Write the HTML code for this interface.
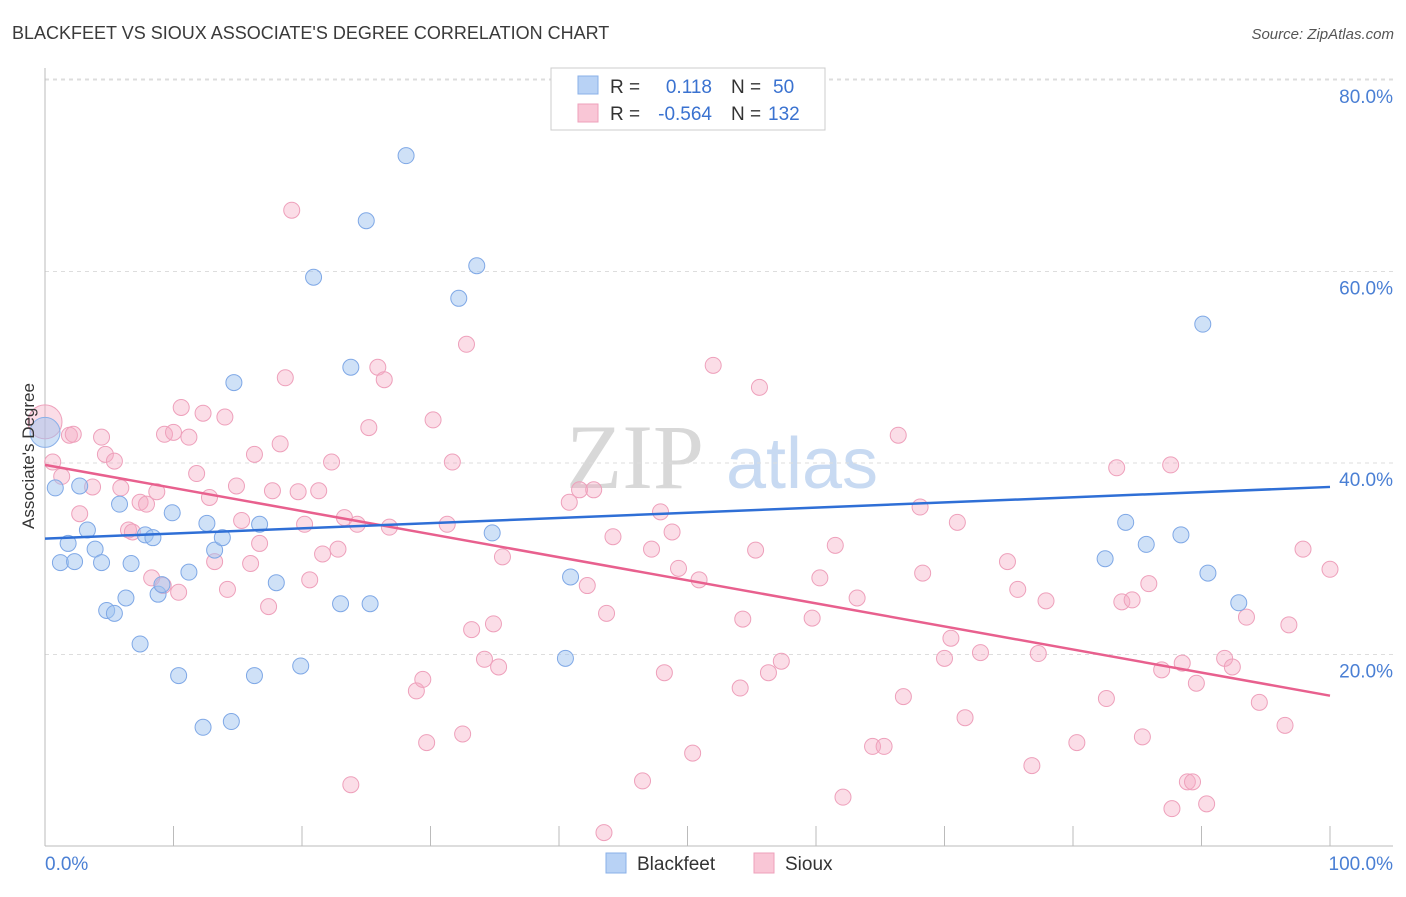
<!DOCTYPE html>
<html><head><meta charset="utf-8"><style>
body{margin:0;background:#fff;width:1406px;height:892px;overflow:hidden;font-family:"Liberation Sans",sans-serif}
</style></head><body>
<svg id="chart" width="1406" height="892" xmlns="http://www.w3.org/2000/svg" font-family="Liberation Sans, sans-serif">
<text x="12" y="39" font-size="18" fill="#3a3a3a">BLACKFEET VS SIOUX ASSOCIATE'S DEGREE CORRELATION CHART</text>
<text x="1394" y="39" font-size="15" fill="#555" font-style="italic" text-anchor="end">Source: ZipAtlas.com</text>
<g>
<text x="635" y="488" font-size="92" fill="#d8d8d8" font-family="Liberation Serif, serif" text-anchor="middle">ZIP</text>
<text x="802" y="488" font-size="72" fill="#c8daf2" text-anchor="middle">atlas</text>
</g>
<g id="grid"></g>
<g id="axes"></g>
<g id="pink"></g>
<g id="blue"></g>
<g id="trends"></g>
<text transform="translate(34,456) rotate(-90)" font-size="17" fill="#333" text-anchor="middle">Associate's Degree</text>
<g>
<rect x="551" y="68" width="274" height="62" fill="#fff" stroke="#ccc"/>
<rect x="578" y="76" width="20" height="18" fill="#b8d2f5" stroke="#8ab0e8"/>
<rect x="578" y="104" width="20" height="18" fill="#f9c6d6" stroke="#eea0bb"/>
<text x="610" y="93" font-size="19" fill="#333">R =</text>
<text x="712" y="93" font-size="19" fill="#3a72d0" text-anchor="end">0.118</text>
<text x="731" y="93" font-size="19" fill="#333">N =</text>
<text x="773" y="93" font-size="19" fill="#3a72d0">50</text>
<text x="610" y="120" font-size="19" fill="#333">R =</text>
<text x="712" y="120" font-size="19" fill="#3a72d0" text-anchor="end">-0.564</text>
<text x="731" y="120" font-size="19" fill="#333">N =</text>
<text x="768" y="120" font-size="19" fill="#3a72d0">132</text>
</g>
<g>
<rect x="606" y="853" width="20" height="20" fill="#b8d2f5" stroke="#8ab0e8"/>
<text x="637" y="870" font-size="19" fill="#333">Blackfeet</text>
<rect x="754" y="853" width="20" height="20" fill="#f9c6d6" stroke="#eea0bb"/>
<text x="785" y="870" font-size="19" fill="#333">Sioux</text>
</g>
</svg>
<script>
const yTicks=[20,40,60,80];
const yTickLabels=["20.0%","40.0%","60.0%","80.0%"];
const xTickVals=[0,10,20,30,40,50,60,70,80,90,100];
const xEndLabels=["0.0%","100.0%"];
const blackfeetX=[0.8,1.2,1.8,2.3,2.7,3.3,3.9,4.4,4.8,5.4,5.8,6.3,6.7,7.4,7.8,8.4,8.8,9.1,9.9,10.4,11.2,12.3,12.6,13.2,13.8,14.5,14.7,16.3,16.7,18.0,19.9,20.9,23.0,23.8,25.0,25.3,28.1,32.2,33.6,34.8,40.5,40.9,82.5,84.1,85.7,88.4,90.1,90.5,92.9];
const blackfeetY=[37.4,29.6,31.6,29.7,37.6,33.0,31.0,29.6,24.6,24.3,35.7,25.9,29.5,21.1,32.5,32.2,26.3,27.3,34.8,17.8,28.6,12.4,33.7,30.9,32.2,13.0,48.4,17.8,33.6,27.5,18.8,59.4,25.3,50.0,65.3,25.3,72.1,57.2,60.6,32.7,19.6,28.1,30.0,33.8,31.5,32.5,54.5,28.5,25.4];
const siouxX=[0.6,1.3,1.9,2.2,2.7,3.7,4.4,4.7,5.4,5.9,6.5,6.8,7.4,7.9,8.3,8.7,9.2,9.3,10.0,10.4,10.6,11.2,11.8,12.3,12.8,13.2,14.0,14.2,14.9,15.3,16.0,16.3,16.7,17.4,17.7,18.3,18.7,19.2,19.7,20.2,20.6,21.3,21.6,22.3,22.8,23.3,23.8,24.3,25.2,25.9,26.4,26.8,28.9,29.4,29.7,30.2,31.3,31.7,32.5,32.8,33.2,34.2,34.9,35.3,35.6,40.8,41.6,42.2,42.7,43.5,43.7,44.2,46.5,47.2,47.9,48.2,48.8,49.3,50.4,50.9,52.0,54.1,54.3,55.3,55.6,56.3,57.3,59.7,60.3,61.5,62.1,63.2,64.4,65.3,66.4,66.8,68.1,68.3,70.0,70.5,71.0,71.6,72.8,74.9,75.7,76.8,77.3,77.9,80.3,82.6,83.4,83.8,84.6,85.4,85.9,86.9,87.6,87.7,88.5,88.9,89.3,89.6,90.4,91.8,92.4,93.5,94.5,96.8,96.5,97.9,100];
const siouxY=[40.1,38.6,42.9,43.0,34.7,37.5,42.7,40.9,40.2,37.4,33.0,32.8,35.9,35.7,28.0,37.0,27.2,43.0,43.2,26.5,45.8,42.7,38.9,45.2,36.4,29.7,44.8,26.8,37.6,34.0,29.5,40.9,31.6,25.0,37.1,42.0,48.9,66.4,37.0,33.6,27.8,37.1,30.5,40.1,31.0,34.3,6.4,33.6,43.7,50.0,48.7,33.3,16.2,17.4,10.8,44.5,33.6,40.1,11.7,52.4,22.6,19.5,23.2,18.7,30.2,35.9,37.2,27.2,37.2,1.4,24.3,32.3,6.8,31.0,34.9,18.1,32.8,29.0,9.7,27.8,50.2,16.5,23.7,30.9,47.9,18.1,19.3,23.8,28.0,31.4,5.1,25.9,10.4,10.4,42.9,15.6,35.4,28.5,19.6,21.7,33.8,13.4,20.2,29.7,26.8,8.4,20.1,25.6,10.8,15.4,39.5,25.5,25.7,11.4,27.4,18.4,39.8,3.9,19.1,6.7,6.7,17.0,4.4,19.6,18.7,23.9,15.0,23.1,12.6,31.0,28.9];
const bigPointX=[0,0];
const bigPointY=[43.2,44.3];
const blackfeetTrend=[32.1,37.5];
const siouxTrend=[39.8,15.7];

const NS="http://www.w3.org/2000/svg";
const X0=45,X1=1330,Y0=846,PX20=191.5;
const sx=v=>X0+(X1-X0)*v/100;
const sy=v=>Y0-PX20*v/20;
function mk(tag,attrs,parent){const e=document.createElementNS(NS,tag);for(const k in attrs)e.setAttribute(k,attrs[k]);parent.appendChild(e);return e;}
const grid=document.getElementById('grid'),axes=document.getElementById('axes');
yTicks.forEach((t,i)=>{
 const l=mk('line',{x1:X0,x2:1393,y1:sy(t),y2:sy(t),stroke:'#ddd','stroke-dasharray':'4,4'},grid);
 
 
 const tx=mk('text',{x:1393,y:sy(t)+23,'font-size':19,fill:'#4a7fd4','text-anchor':'end'},axes);
 tx.textContent=yTickLabels[i];
 
 
});
const topGrid=mk('line',{x1:X0,x2:1393,y1:79,y2:79,stroke:'#ddd','stroke-dasharray':'4,4'},grid);


const ya=mk('line',{x1:X0,x2:X0,y1:68,y2:Y0,stroke:'#bbb'},axes);


const xa=mk('line',{x1:X0,x2:1393,y1:Y0,y2:Y0,stroke:'#bbb'},axes);


xTickVals.forEach(t=>{
 const tk=mk('line',{x1:sx(t),x2:sx(t),y1:826,y2:Y0,stroke:'#bbb'},axes);
 
 
});
const xl0=mk('text',{x:45,y:870,'font-size':19,fill:'#4a7fd4'},axes);xl0.textContent=xEndLabels[0];


const xl1=mk('text',{x:1393,y:870,'font-size':19,fill:'#4a7fd4','text-anchor':'end'},axes);xl1.textContent=xEndLabels[1];


const pink=document.getElementById('pink'),blue=document.getElementById('blue');
siouxX.forEach((x,i)=>{
 const c=mk('circle',{cx:sx(x),cy:sy(siouxY[i]),r:8,fill:'rgba(246,170,196,0.4)',stroke:'#eea0bb','stroke-width':1},pink);
 
 
});
const bp=mk('circle',{cx:sx(bigPointX[1]),cy:sy(bigPointY[1]),r:17,fill:'rgba(246,170,196,0.4)',stroke:'#eea0bb'},pink);


const bb=mk('circle',{cx:sx(bigPointX[0]),cy:sy(bigPointY[0]),r:15,fill:'rgba(160,195,240,0.5)',stroke:'#8ab0e8'},blue);


blackfeetX.forEach((x,i)=>{
 const c=mk('circle',{cx:sx(x),cy:sy(blackfeetY[i]),r:8,fill:'rgba(160,195,240,0.5)',stroke:'#7fa8e6','stroke-width':1},blue);
 
 
});
const tr=document.getElementById('trends');
const t1=mk('line',{x1:sx(0),x2:sx(100),y1:sy(siouxTrend[0]),y2:sy(siouxTrend[1]),stroke:'#e8608e','stroke-width':2.5},tr);


const t2=mk('line',{x1:sx(0),x2:sx(100),y1:sy(blackfeetTrend[0]),y2:sy(blackfeetTrend[1]),stroke:'#2f6fd6','stroke-width':2.5},tr);


</script>
</body></html>
